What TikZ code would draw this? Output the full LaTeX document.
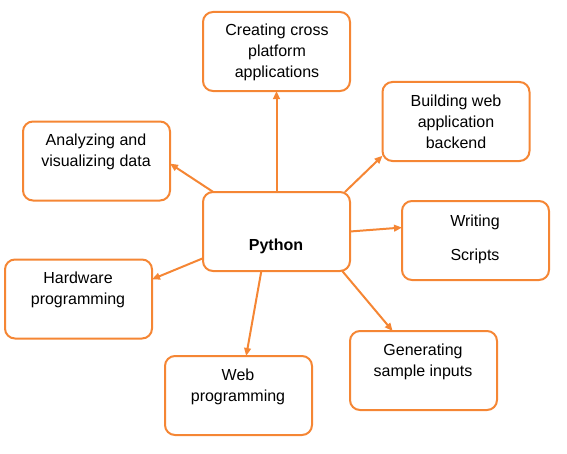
\documentclass[tikz,border=0pt]{standalone}
\usepackage{fontspec}
\setmainfont{Liberation Sans}
\usetikzlibrary{arrows.meta}
\definecolor{pyorange}{RGB}{245,134,52}
\begin{document}
\begin{tikzpicture}
[
 x=0.75pt, y=-0.75pt,
 inner sep=0mm,
 BOX/.style={rectangle, rounded corners=7.5pt, draw=pyorange, line width=1.5pt, fill=white, minimum width=110.25pt, minimum height=59.25pt, outer sep=0pt},
 TXT/.style={anchor=north, align=center, font=\fontsize{12}{15.75}\selectfont},
 LINK/.style={draw=pyorange, line width=1.5pt, -{Triangle[length=6pt, width=5pt]}},
 ],
%
\useasboundingbox (0,0) rectangle (567,453);
%
\node [BOX]  (CP)   at ( 276.5,  51.5)  {};
\node [BOX]  (BW)   at ( 456.0, 121.5)  {};
\node [BOX]  (AD)   at (  96.5, 161.0)  {};
\node [BOX]  (PY)   at ( 276.5, 231.5)  {};
\node [BOX]  (WS)   at ( 475.5, 240.5)  {};
\node [BOX]  (HP)   at (  78.5, 299.0)  {};
\node [BOX]  (GS)   at ( 423.5, 370.5)  {};
\node [BOX]  (WP)   at ( 238.5, 395.5)  {};
%
\node [TXT]  (CPT)  at ( 277, 24)  {Creating cross\\platform\\applications};
\node [TXT]  (BWT)  at ( 456, 95)  {Building web\\application\\backend};
\node [TXT]  (ADT)  at (  96, 134) {Analyzing and\\visualizing data};
\node [TXT]  (PYT)  at ( 276, 239) {\bfseries Python};
\node [TXT]  (WST)  at ( 475, 215) {Writing\\[9.75pt]Scripts};
\node [TXT]  (HPT)  at (  78, 272) {Hardware\\programming};
\node [TXT]  (GST)  at ( 423, 344) {Generating\\sample inputs};
\node [TXT]  (WPT)  at ( 238, 369) {Web\\programming};
%
\draw [LINK]  (PY.north)  -- (CP.south) ;
\draw [LINK]  (PY.30)     -- (BW.205) ;
\draw [LINK]  (PY.east)   -- (WS.170) ;
\draw [LINK]  (PY.-31)    -- (GS.128) ;
\draw [LINK]  (PY.-111)   -- (WP.79) ;
\draw [LINK]  (PY.200)    -- (HP.15) ;
\draw [LINK]  (PY.148)    -- (AD.-2) ;
\end{tikzpicture}
\end{document}
